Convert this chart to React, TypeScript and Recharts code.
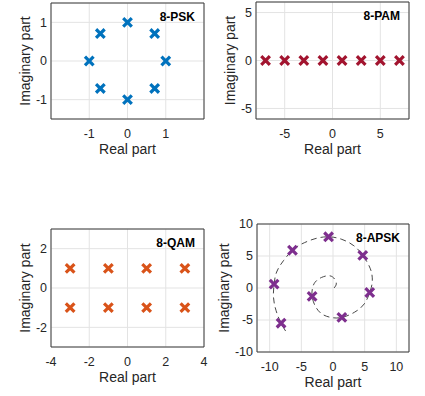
import { ComposedChart, Scatter, Line, XAxis, YAxis, CartesianGrid, ReferenceArea } from "recharts";

const FONT = '"Liberation Sans", Arial, Helvetica, sans-serif';
const INK = "#262626";

// constellation points
const pskRe = [1, 0.71, 0, -0.71, -1, -0.71, 0, 0.71];
const pskIm = [0, 0.71, 1, 0.71, 0, -0.71, -1, -0.71];

const pamRe = [-7, -5, -3, -1, 1, 3, 5, 7];
const pamIm = [0, 0, 0, 0, 0, 0, 0, 0];

const qamRe = [-3, -1, 1, 3, -3, -1, 1, 3];
const qamIm = [1, 1, 1, 1, -1, -1, -1, -1];

const apskRe = [-3.3, 1.4, 5.8, 4.7, -0.7, -6.4, -9.3, -8.2];
const apskIm = [-1.3, -4.6, -0.7, 5.1, 8.0, 5.9, 0.6, -5.5];

// dashed spiral through the APSK points, traced by eye
const spiralRe = [0.16, 0.52, 0.26, -0.52, -1.81, -2.85, -3.26, -3.3, -2.85, -1.81, -0.3, 1.4, 3.37, 4.92, 5.8, 6.2, 5.9, 4.7, 3.3, 1.4, -0.7, -2.85, -4.9, -6.4, -7.8, -8.9, -9.3, -9.4, -9.0, -8.2, -7.3];
const spiralIm = [0, 0.62, 1.39, 1.91, 1.65, 0.88, -0.15, -1.3, -2.73, -4.02, -4.6, -4.6, -3.8, -2.5, -0.7, 1.0, 3.0, 5.1, 6.6, 7.6, 8.0, 7.7, 6.9, 5.9, 4.3, 2.5, 0.6, -1.4, -3.5, -5.5, -7.0];

const zip = (re: number[], im: number[]) => re.map((x, i) => ({ x, y: im[i] }));

const Cross = (props: any) => {
  const { cx, cy, fill } = props;
  if (cx == null || cy == null) return null;
  const s = 4.3;
  return (
    <path
      d={`M${cx - s},${cy - s}L${cx + s},${cy + s}M${cx - s},${cy + s}L${cx + s},${cy - s}`}
      stroke={fill}
      strokeWidth={3.2}
      fill="none"
    />
  );
};

interface PanelProps {
  left: number;
  top: number;
  width: number;
  height: number;
  margin: { top: number; right: number };
  yWidth: number;
  xHeight: number;
  yTitleGap: number;
  xDomain: [number, number];
  xTicks: number[];
  yDomain: [number, number];
  yTicks: number[];
  points: { x: number; y: number }[];
  color: string;
  title: string;
  curve?: { x: number; y: number }[];
}

const Panel = (p: PanelProps) => {
  const xTitle = (props: any) => {
    const vb = props.viewBox;
    return (
      <text x={vb.x + vb.width / 2} y={vb.y + 35} textAnchor="middle" fill={INK} fontSize={14} fontFamily={FONT}>
        Real part
      </text>
    );
  };
  const yTitle = (props: any) => {
    const vb = props.viewBox;
    const cx = vb.x + vb.width - p.yTitleGap;
    const cy = vb.y + vb.height / 2;
    return (
      <text
        x={cx}
        y={cy}
        transform={`rotate(-90 ${cx} ${cy})`}
        textAnchor="middle"
        dominantBaseline="central"
        fill={INK}
        fontSize={14}
        fontFamily={FONT}
      >
        Imaginary part
      </text>
    );
  };
  const titleLabel = (props: any) => {
    const vb = props.viewBox;
    return (
      <text x={vb.x + vb.width - 9} y={vb.y + 18} textAnchor="end" fontWeight="bold" fontSize={12} fontFamily={FONT} fill="#000">
        {p.title}
      </text>
    );
  };

  return (
    <div style={{ position: "absolute", left: p.left, top: p.top }}>
      <ComposedChart width={p.width} height={p.height} margin={{ top: p.margin.top, right: p.margin.right, left: 0, bottom: 0 }}>
        <CartesianGrid stroke="#e3e3e3" />
        <XAxis
          type="number"
          dataKey="x"
          domain={p.xDomain}
          ticks={p.xTicks}
          allowDataOverflow
          axisLine={false}
          tickLine={false}
          tickSize={0}
          tickMargin={10}
          height={p.xHeight}
          interval={0}
          tick={{ fill: INK, fontSize: 12.5, fontFamily: FONT }}
          label={xTitle}
        />
        <YAxis
          type="number"
          dataKey="y"
          domain={p.yDomain}
          ticks={p.yTicks}
          allowDataOverflow
          axisLine={false}
          tickLine={false}
          tickSize={0}
          tickMargin={4}
          width={p.yWidth}
          interval={0}
          tick={{ fill: INK, fontSize: 12.5, fontFamily: FONT }}
          label={yTitle}
        />
        <ReferenceArea
          x1={p.xDomain[0]}
          x2={p.xDomain[1]}
          y1={p.yDomain[0]}
          y2={p.yDomain[1]}
          stroke="#3a3a3a"
          strokeWidth={1}
          fill="none"
          fillOpacity={0}
          label={titleLabel}
        />
        {p.curve && (
          <Line
            data={p.curve}
            dataKey="y"
            type="natural"
            stroke="#333"
            strokeWidth={0.9}
            strokeDasharray="6 4"
            dot={false}
            activeDot={false}
            isAnimationActive={false}
          />
        )}
        <Scatter data={p.points} fill={p.color} shape={<Cross />} isAnimationActive={false} />
      </ComposedChart>
    </div>
  );
};

export default function App() {
  return (
    <div style={{ position: "absolute", left: 0, top: 0, width: 425, height: 396, background: "#fff", fontFamily: FONT }}>
      <Panel
        left={0}
        top={0}
        width={212}
        height={170}
        margin={{ top: 3, right: 8 }}
        yWidth={51}
        xHeight={51}
        yTitleGap={26}
        xDomain={[-2, 2]}
        xTicks={[-1, 0, 1]}
        yDomain={[-1.5, 1.5]}
        yTicks={[-1, 0, 1]}
        points={zip(pskRe, pskIm)}
        color="#0072BD"
        title="8-PSK"
      />
      <Panel
        left={212}
        top={0}
        width={213}
        height={170}
        margin={{ top: 2, right: 16 }}
        yWidth={44}
        xHeight={51}
        yTitleGap={26}
        xDomain={[-8, 8]}
        xTicks={[-5, 0, 5]}
        yDomain={[-6.1, 6.1]}
        yTicks={[-5, 0, 5]}
        points={zip(pamRe, pamIm)}
        color="#A2142F"
        title="8-PAM"
      />
      <Panel
        left={0}
        top={210}
        width={212}
        height={186}
        margin={{ top: 19, right: 8 }}
        yWidth={51}
        xHeight={49}
        yTitleGap={26}
        xDomain={[-4, 4]}
        xTicks={[-4, -2, 0, 2, 4]}
        yDomain={[-3, 3]}
        yTicks={[-2, 0, 2]}
        points={zip(qamRe, qamIm)}
        color="#D95319"
        title="8-QAM"
      />
      <Panel
        left={212}
        top={210}
        width={213}
        height={186}
        margin={{ top: 14, right: 16 }}
        yWidth={45}
        xHeight={44}
        yTitleGap={33}
        xDomain={[-12, 12]}
        xTicks={[-10, -5, 0, 5, 10]}
        yDomain={[-10, 10]}
        yTicks={[-10, -5, 0, 5, 10]}
        points={zip(apskRe, apskIm)}
        color="#7E2F8E"
        title="8-APSK"
        curve={zip(spiralRe, spiralIm)}
      />
    </div>
  );
}
